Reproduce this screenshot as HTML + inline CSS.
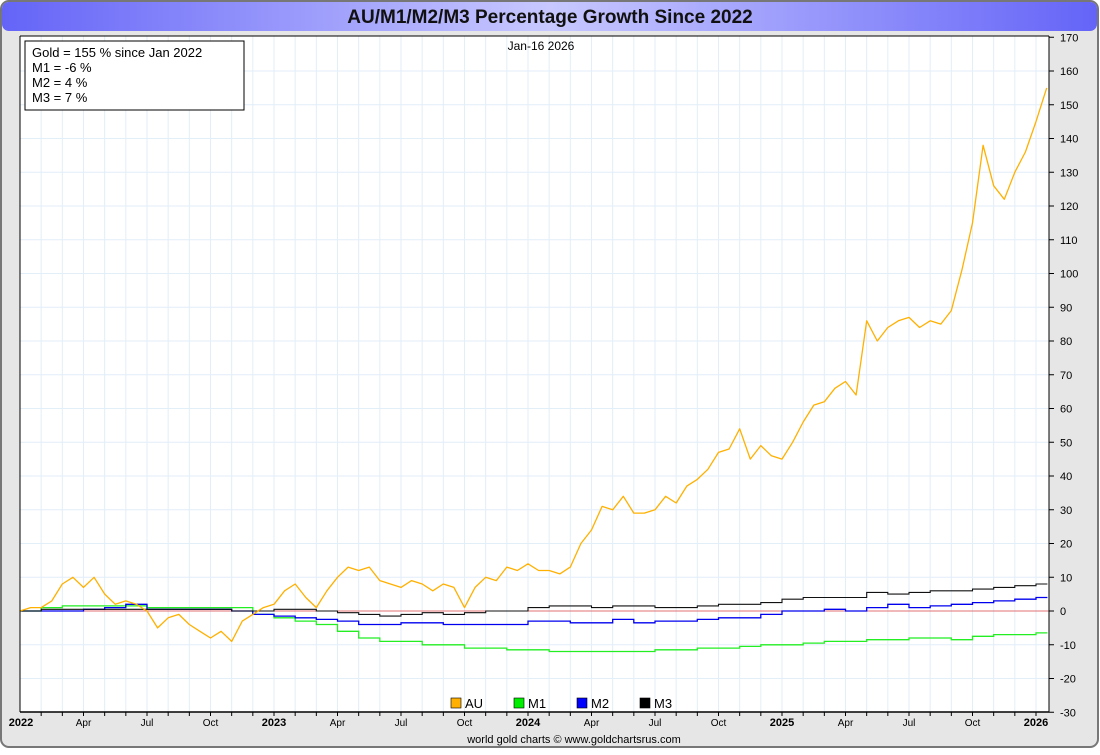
<!DOCTYPE html>
<html><head><meta charset="utf-8"><style>
html,body{margin:0;padding:0;background:#fff;}
body{width:1100px;height:750px;overflow:hidden;font-family:"Liberation Sans",sans-serif;}
</style></head><body>
<svg id="chart" width="1100" height="750" xmlns="http://www.w3.org/2000/svg" font-family="Liberation Sans, sans-serif">
<defs><linearGradient id="tg" x1="0" x2="1" y1="0" y2="0"><stop offset="0" stop-color="#6464f8"/><stop offset="0.5" stop-color="#c8c8ff"/><stop offset="1" stop-color="#6464f8"/></linearGradient></defs>
<rect x="1" y="1" width="1097" height="746" rx="8" fill="#e6e6e6" stroke="#777" stroke-width="2"/>
<rect x="2" y="2" width="1095" height="29" rx="7" fill="url(#tg)"/>
<text x="550" y="23" text-anchor="middle" font-size="19" font-weight="bold" fill="#111">AU/M1/M2/M3 Percentage Growth Since 2022</text>
<rect x="20" y="36" width="1029" height="676" fill="#fff"/>
<g id="grid"></g>
<g id="series"></g>
<line x1="20" y1="36" x2="20" y2="712" stroke="#000"/>
<line x1="1049" y1="36" x2="1049" y2="712" stroke="#000"/>
<line x1="20" y1="36" x2="1049" y2="36" stroke="#000"/>
<line x1="20" y1="712" x2="1049" y2="712" stroke="#000" stroke-width="1.5"/>
<g id="axes"></g>
<text x="541" y="50" text-anchor="middle" font-size="12">Jan-16  2026</text>
<g>
<rect x="25" y="41" width="219" height="69" fill="#fff" stroke="#000"/>
<text x="32" y="57" font-size="13">Gold = 155 % since Jan 2022</text>
<text x="32" y="72" font-size="13">M1 = -6 %</text>
<text x="32" y="87" font-size="13">M2 = 4 %</text>
<text x="32" y="102" font-size="13">M3 = 7 %</text>
</g>
<g font-size="13">
<rect x="451" y="698" width="10" height="10" fill="#ffb000" stroke="#000" stroke-width="0.6"/><text x="465" y="708">AU</text>
<rect x="514" y="698" width="10" height="10" fill="#00ee00" stroke="#000" stroke-width="0.6"/><text x="528" y="708">M1</text>
<rect x="577" y="698" width="10" height="10" fill="#0000ff" stroke="#000" stroke-width="0.6"/><text x="591" y="708">M2</text>
<rect x="640" y="698" width="10" height="10" fill="#000" stroke="#000" stroke-width="0.6"/><text x="654" y="708">M3</text>
</g>
<text x="574" y="743" text-anchor="middle" font-size="11">world gold charts © www.goldchartsrus.com</text>
</svg>
<script>
const yTicks=[170,160,150,140,130,120,110,100,90,80,70,60,50,40,30,20,10,0,-10,-20,-30];
const xLabels=["2022","Apr","Jul","Oct","2023","Apr","Jul","Oct","2024","Apr","Jul","Oct","2025","Apr","Jul","Oct","2026"];
// gold, half-monthly from Jan 1 2022; last value Jan 16 2026
const gold=[0,1,1,3,8,10,7,10,5,2,3,2,0,-5,-2,-1,-4,-6,-8,-6,-9,-3,-1,1,
2,6,8,4,1,6,10,13,12,13,9,8,7,9,8,6,8,7,1,7,10,9,13,12,
14,12,12,11,13,20,24,31,30,34,29,29,30,34,32,37,39,42,47,48,54,45,49,46,
45,50,56,61,62,66,68,64,86,80,84,86,87,84,86,85,89,101,115,138,126,122,130,136,
145,155];
// monthly Jan 2022 .. Jan 2026
const m1=[0,1,1.5,1.5,1.5,1.5,1,1,1,1,1,-1,-2,-3,-4,-6,-8,-9,-9,-10,-10,-11,-11,-11.5,-11.5,-12,-12,-12,-12,-12,-11.5,-11.5,-11,-11,-10.5,-10,-10,-9.5,-9,-9,-8.5,-8.5,-8,-8,-8.5,-7.5,-7,-7,-6.5];
const m2=[0,0,0,0.5,1,2,0.5,0.5,0.5,0.5,0,-1,-1.5,-2,-2.5,-3,-4,-4,-3.5,-3.5,-4,-4,-4,-4,-3,-3,-3.5,-3.5,-2.5,-3.5,-3,-3,-2.5,-2,-2,-1,0,0,0.5,0,1,2,1,1.5,2,2.5,3,3.5,4];
const m3=[0,0.5,0.5,0.5,0.5,0.5,0.5,0.5,0.5,0.5,0,0,0.5,0.5,0,-0.5,-1,-1.5,-1,-0.5,-1,-0.5,0,0,1,1.5,1.5,1,1.5,1.5,1,1,1.5,2,2,2.5,3.5,4,4,4,5.5,5,5.5,6,6,6.5,7,7.5,8];
const NS='http://www.w3.org/2000/svg';
const X0=20,PXY=254,Y0=611,PXV=3.375;
function xs(t){return X0+(t-2022)*PXY;}
function ys(v){return Y0-v*PXV;}
function mk(tag,attrs,parent){const e=document.createElementNS(NS,tag);for(const k in attrs)e.setAttribute(k,attrs[k]);parent.appendChild(e);return e;}
const grid=document.getElementById('grid'),axes=document.getElementById('axes'),ser=document.getElementById('series');
for(let i=1;i<49;i++){const x=xs(2022+i/12);
 const g=mk('line',{x1:x,y1:36,x2:x,y2:712,stroke:'#e2eef8'},grid);
 
 const tk=mk('line',{x1:x,y1:712,x2:x,y2:716,stroke:'#000'},axes);
 }
yTicks.forEach(v=>{const y=ys(v);
 if(v!==170&&v!==-30){const g=mk('line',{x1:20,y1:y,x2:1049,y2:y,stroke:'#e2eef8'},grid);
 }
 const tk=mk('line',{x1:1049,y1:y,x2:1054,y2:y,stroke:'#000'},axes);
 
 const t=mk('text',{x:1060,y:y+4,'font-size':11},axes);t.textContent=v;
 });
xLabels.forEach((s,i)=>{const x=xs(2022+i*0.25);const bold=i%4===0;
 const t=mk('text',{x:i===0?x+1:x,y:726,'font-size':bold?11:10,'font-weight':bold?'bold':'normal','text-anchor':'middle'},axes);t.textContent=s;
 });
const zl=mk('line',{x1:20,y1:ys(0),x2:1049,y2:ys(0),stroke:'#e07070'},ser);

function stepPath(arr){let d='';arr.forEach((v,i)=>{const x=xs(2022+i/12),y=ys(v);
 d+=(i===0?'M':'L')+x.toFixed(1)+','+y.toFixed(1)+' ';
 const xn=xs(i===arr.length-1?2026.045:2022+(i+1)/12);d+='L'+xn.toFixed(1)+','+y.toFixed(1)+' ';});return d;}
const p1=mk('path',{d:stepPath(m1),fill:'none',stroke:'#22ee22','stroke-width':1.3},ser);

const p2=mk('path',{d:stepPath(m2),fill:'none',stroke:'#0000ee','stroke-width':1.3},ser);

const p3=mk('path',{d:stepPath(m3),fill:'none',stroke:'#111','stroke-width':1.1},ser);

let gd='';gold.forEach((v,i)=>{const t=i<gold.length-1?2022+i/24:2026.042;gd+=(i===0?'M':'L')+xs(t).toFixed(1)+','+ys(v).toFixed(1)+' ';});
const pg=mk('path',{d:gd,fill:'none',stroke:'#ffb000','stroke-width':1.3,'stroke-linejoin':'round'},ser);

</script>
</body></html>
